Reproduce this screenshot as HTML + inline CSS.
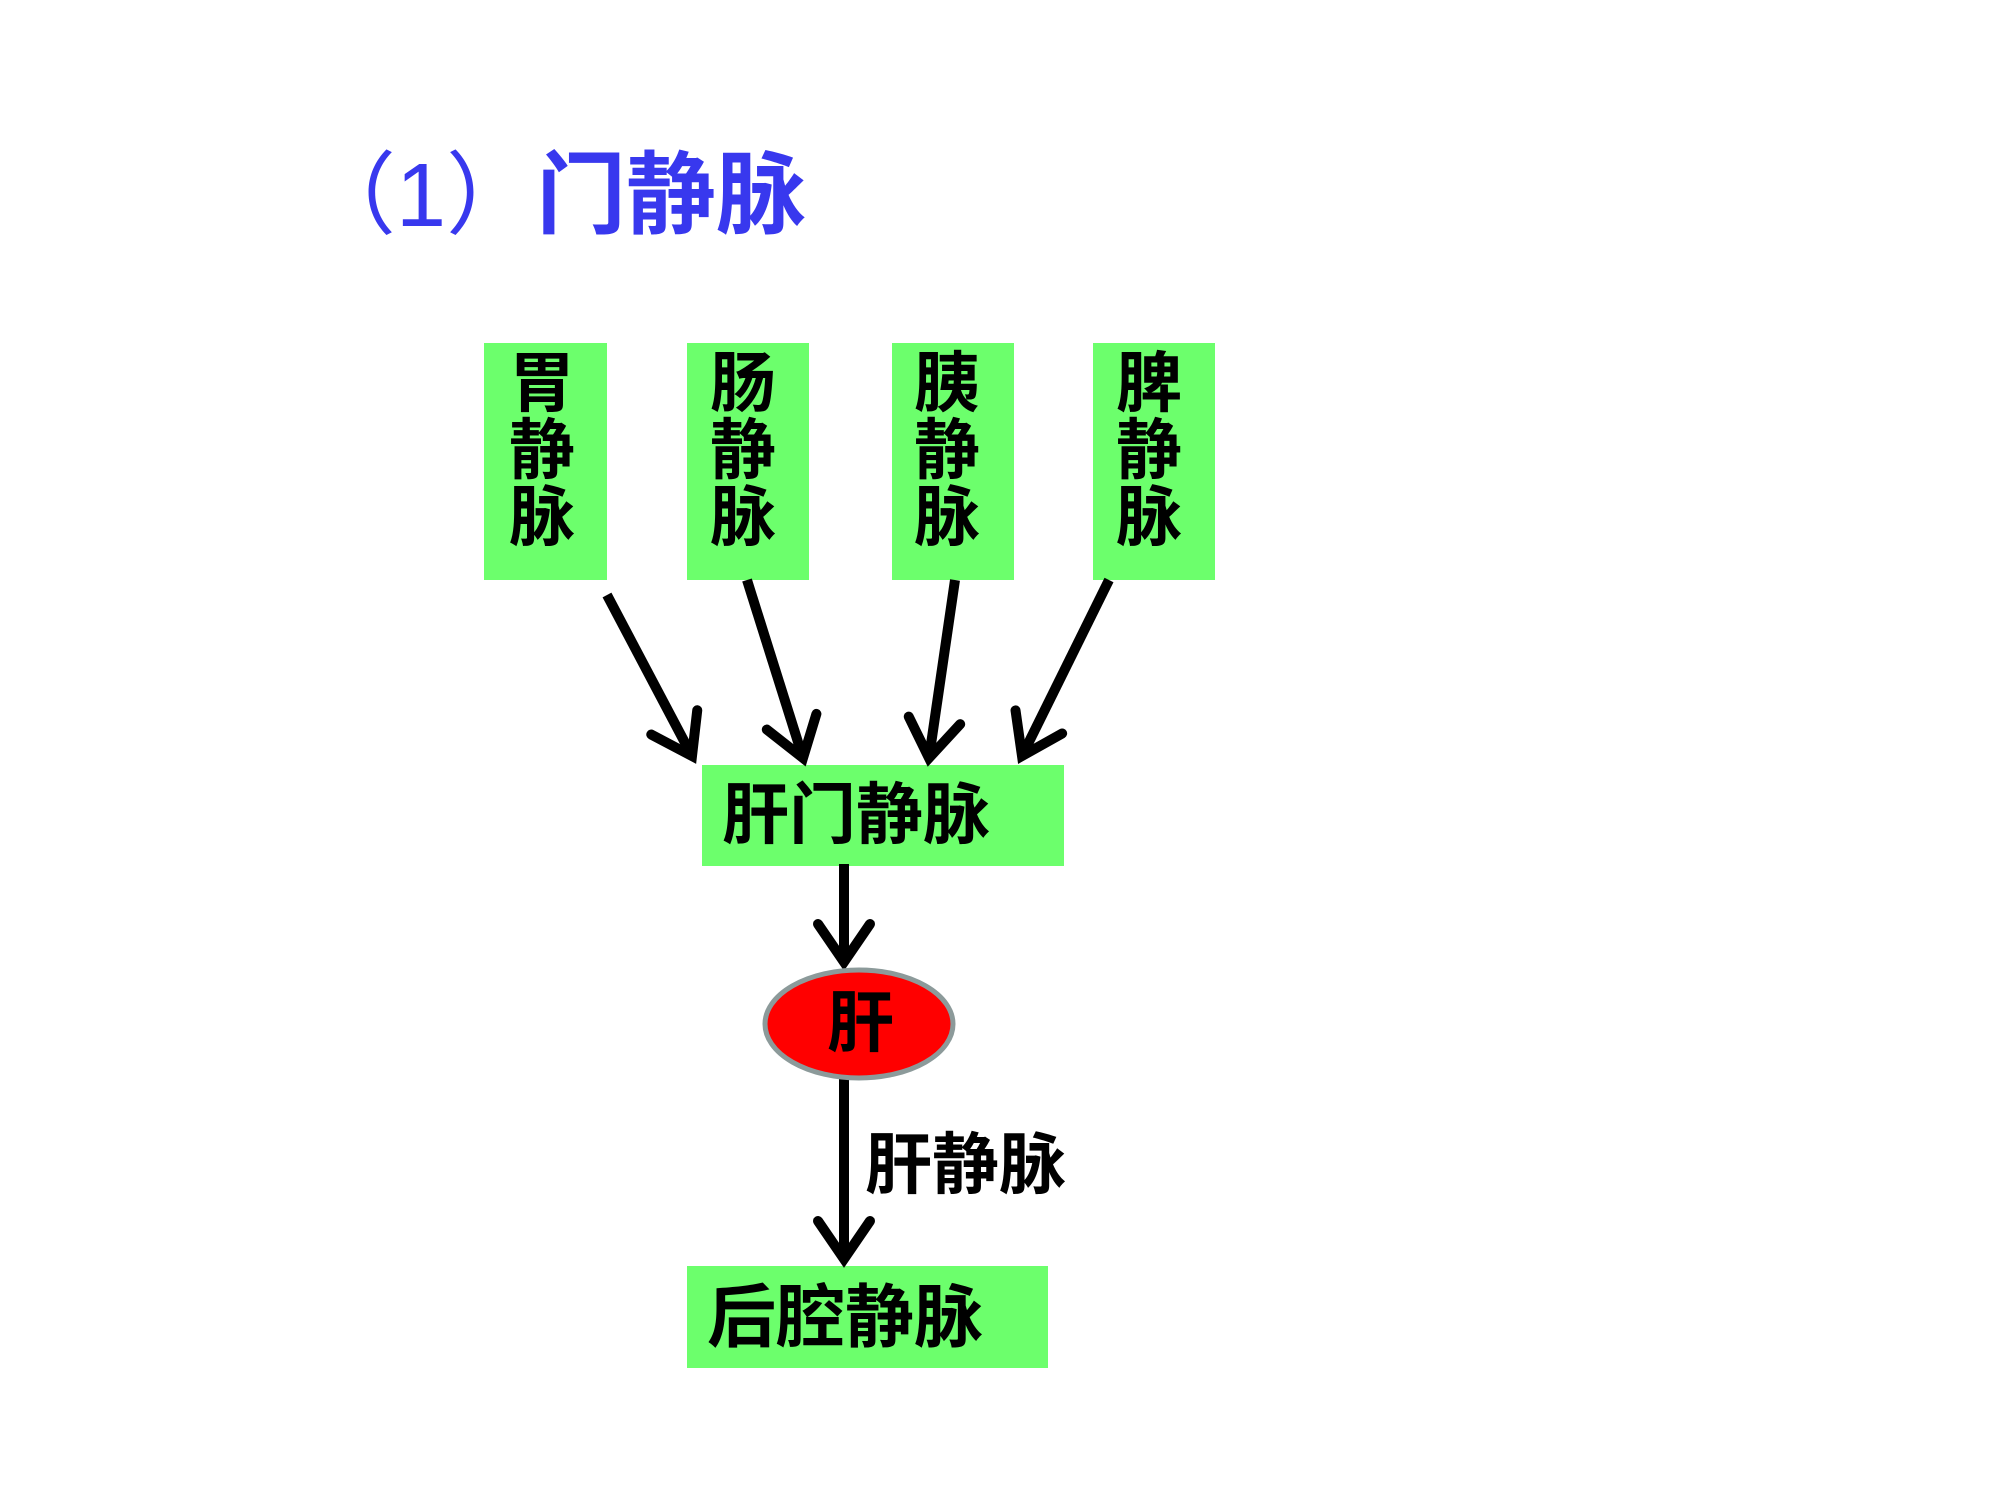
<!DOCTYPE html>
<html><head><meta charset="utf-8"><style>
body{margin:0;width:2000px;height:1500px;background:#fff;position:relative;overflow:hidden;font-family:"Liberation Sans","Noto Sans CJK SC",sans-serif;}
.t{position:absolute;font-weight:bold;color:#000;white-space:nowrap;}
.box{position:absolute;background:#6cff6c;}
svg{position:absolute;left:0;top:0;}
#w{position:absolute;left:-8px;top:-4px;width:2000px;height:1500px;}
</style></head><body>
<div class="t" style="left:306px;top:122px;font-size:90px;color:#3838ee;font-weight:normal;">（1）<span style="font-weight:bold">门静脉</span></div>
<div id="w">
<div class="box" style="left:492px;top:347px;width:123px;height:237px"></div>
<div class="box" style="left:695px;top:347px;width:122px;height:237px"></div>
<div class="box" style="left:900px;top:347px;width:122px;height:237px"></div>
<div class="box" style="left:1101px;top:347px;width:122px;height:237px"></div>
<div class="t" style="left:517px;top:354px;font-size:66px;line-height:67px;">胃<br>静<br>脉</div>
<div class="t" style="left:718px;top:354px;font-size:66px;line-height:67px;">肠<br>静<br>脉</div>
<div class="t" style="left:922px;top:354px;font-size:66px;line-height:67px;">胰<br>静<br>脉</div>
<div class="t" style="left:1124px;top:354px;font-size:66px;line-height:67px;">脾<br>静<br>脉</div>

<div class="box" style="left:710px;top:769px;width:362px;height:101px"></div>
<div class="t" style="left:730px;top:780px;font-size:67px;line-height:80px;">肝门静脉</div>

<div class="box" style="left:695px;top:1270px;width:361px;height:102px"></div>
<div class="t" style="left:715px;top:1282px;font-size:69px;line-height:80px;">后腔静脉</div>

<svg width="2000" height="1500">
<defs><marker id="a" markerUnits="userSpaceOnUse" markerWidth="100" markerHeight="100" refX="50" refY="50" orient="auto" viewBox="0 0 100 100">
<path d="M12,24 L50,50 L12,76" fill="none" stroke="#000" stroke-width="10" stroke-linecap="round" stroke-linejoin="miter"/></marker></defs>
<g stroke="#000" stroke-width="10" fill="none">
<line x1="615" y1="599" x2="700" y2="760" marker-end="url(#a)"/>
<line x1="755" y1="584" x2="811" y2="762" marker-end="url(#a)"/>
<line x1="963" y1="584" x2="937" y2="762" marker-end="url(#a)"/>
<line x1="1117" y1="584" x2="1030" y2="760" marker-end="url(#a)"/>
<line x1="852" y1="868" x2="852" y2="966" marker-end="url(#a)"/>
<line x1="852" y1="1079" x2="852" y2="1263" marker-end="url(#a)"/>
</g>
<ellipse cx="867" cy="1028" rx="94" ry="54" fill="#ff0000" stroke="#8c9a9a" stroke-width="5"/>
</svg>
<div class="t" style="left:835px;top:988px;font-size:67px;line-height:80px;">肝</div>
<div class="t" style="left:873px;top:1130px;font-size:67px;line-height:80px;">肝静脉</div>
</div>
</body></html>
